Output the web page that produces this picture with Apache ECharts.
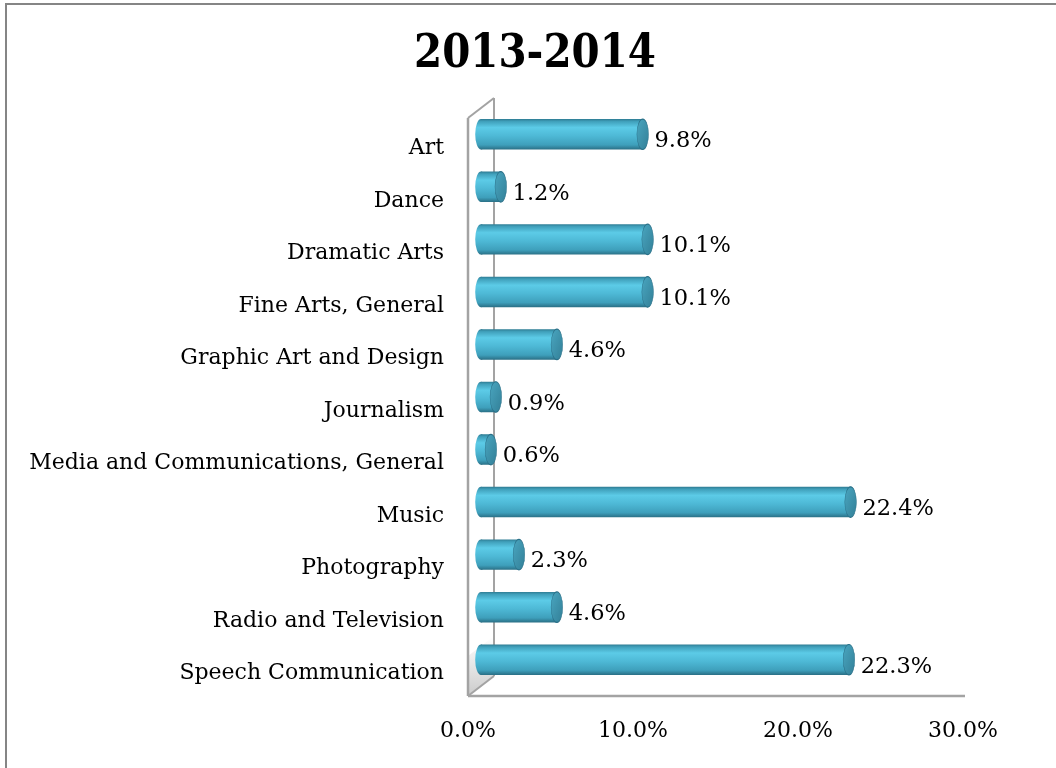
<!DOCTYPE html>
<html>
<head>
<meta charset="utf-8">
<script src="https://cdn.jsdelivr.net/npm/echarts@6/dist/echarts.min.js"></script>
<style>
  html, body { margin: 0; padding: 0; background: #ffffff; }
  #chart { width: 1056px; height: 768px; }
</style>
</head>
<body>
<div id="chart"></div>
<script>
// Share of awards by discipline, 2013-2014
const chartTitle = '2013-2014';
const categories = [
  'Art',
  'Dance',
  'Dramatic Arts',
  'Fine Arts, General',
  'Graphic Art and Design',
  'Journalism',
  'Media and Communications, General',
  'Music',
  'Photography',
  'Radio and Television',
  'Speech Communication'
];
const shares = [9.8, 1.2, 10.1, 10.1, 4.6, 0.9, 0.6, 22.4, 2.3, 4.6, 22.3];
const axisMin = 0;
const axisMax = 30;
const axisStep = 10;

const FONT = 'DejaVu Serif';
const GRID = { left: 468, right: 93, top: 118, bottom: 72 };
// depth of the 3D box (back wall offset) and of the bars (half depth)
const DEPTH_X = 26, DEPTH_Y = -20;
const BAR_DX = 13, BAR_DY = -10;

const bodyFill = new echarts.graphic.LinearGradient(0, 0, 0, 1, [
  { offset: 0.00, color: '#2e7c93' },
  { offset: 0.08, color: '#40a0bb' },
  { offset: 0.28, color: '#5ccbe7' },
  { offset: 0.55, color: '#4eb9d6' },
  { offset: 0.85, color: '#3e9fbb' },
  { offset: 1.00, color: '#2a6f85' }
]);
const faceFill = new echarts.graphic.LinearGradient(0, 0, 1, 1, [
  { offset: 0, color: '#4aa6c0' },
  { offset: 1, color: '#327f97' }
]);

function renderCylinder(params, api) {
  const value = api.value(0);
  const idx = api.value(1);
  const start = api.coord([axisMin, idx]);
  const end = api.coord([value, idx]);
  const band = api.size([0, 1])[1];
  const h = band * 0.58;
  const ry = h / 2;
  const rx = Math.max(3, h * 0.19);
  const x0 = start[0] + BAR_DX;
  const x1 = end[0] + BAR_DX;
  const cy = start[1] + BAR_DY;
  const txt = value.toFixed(1) + '%';
  return {
    type: 'group',
    children: [
      // rounded base of the cylinder
      {
        type: 'circle',
        shape: { cx: 0, cy: 0, r: ry },
        x: x0, y: cy, scaleX: rx / ry,
        style: { fill: bodyFill },
        z2: 1
      },
      // cylinder body
      {
        type: 'rect',
        shape: { x: x0, y: cy - ry, width: Math.max(0, x1 - x0), height: h },
        style: { fill: bodyFill, shadowBlur: 3, shadowColor: 'rgba(0,0,0,0.25)', shadowOffsetY: 1 },
        z2: 2
      },
      // end face
      {
        type: 'circle',
        shape: { cx: 0, cy: 0, r: ry },
        x: x1, y: cy, scaleX: rx / ry,
        style: { fill: faceFill, stroke: '#2b7088', lineWidth: 1.2 },
        z2: 3
      },
      // value label
      {
        type: 'text',
        x: x1 + rx + 6,
        y: cy + 7,
        style: {
          text: txt,
          fontFamily: FONT,
          fontSize: 22.5,
          fill: '#000000',
          align: 'left',
          verticalAlign: 'middle'
        },
        z2: 4
      }
    ]
  };
}

const chart = echarts.init(document.getElementById('chart'), null, { renderer: 'canvas' });

chart.setOption({
  backgroundColor: '#ffffff',
  animation: false,
  grid: GRID,
  xAxis: {
    type: 'value',
    min: axisMin,
    max: axisMax,
    interval: axisStep,
    axisLine: { show: false },
    axisTick: { show: false },
    splitLine: { show: false },
    axisLabel: {
      margin: 24,
      fontFamily: FONT,
      fontSize: 22,
      color: '#000000',
      formatter: v => v.toFixed(1) + '%'
    }
  },
  yAxis: {
    type: 'category',
    inverse: true,
    data: categories,
    axisLine: { show: false },
    axisTick: { show: false },
    splitLine: { show: false },
    axisLabel: {
      margin: 24,
      fontFamily: FONT,
      fontSize: 22,
      color: '#000000',
      formatter: v => '{c|' + v + '}',
      rich: {
        c: { fontFamily: FONT, fontSize: 22, color: '#000000', padding: [8, 0, 0, 0] }
      }
    }
  },
  series: [{
    type: 'custom',
    renderItem: renderCylinder,
    encode: { x: 0, y: 1 },
    data: shares.map((v, i) => [v, i]),
    z: 5
  }]
});

// 3D box frame: front wall edge, back wall edge, floor front edge and the diagonals
const boxLeft = GRID.left;
const boxTop = GRID.top;
const boxBottom = 768 - GRID.bottom;
const boxRight = chart.convertToPixel({ xAxisIndex: 0 }, axisMax);
const wall = { stroke: '#a3a3a3', lineWidth: 2 };

chart.setOption({
  graphic: [
    // outer border
    { type: 'rect', shape: { x: 6, y: 4, width: 1200, height: 900 }, style: { fill: 'none', stroke: '#858585', lineWidth: 2 }, z: 0 },
    // chart title, bold serif, slightly condensed
    {
      type: 'text',
      x: 535, y: 55,
      scaleX: 0.86,
      style: {
        text: chartTitle,
        fontFamily: FONT,
        fontWeight: 'bold',
        fontSize: 47,
        fill: '#000000',
        align: 'center',
        verticalAlign: 'middle'
      },
      z: 2
    },
    // inner corner shading
    {
      type: 'polygon',
      shape: { points: [[boxLeft, boxBottom], [boxLeft + DEPTH_X, boxBottom + DEPTH_Y], [boxLeft + DEPTH_X, boxBottom + DEPTH_Y - 40], [boxLeft, boxBottom - 40]] },
      style: {
        fill: new echarts.graphic.LinearGradient(0, 1, 0, 0, [
          { offset: 0, color: 'rgba(150,150,150,0.5)' },
          { offset: 1, color: 'rgba(160,160,160,0)' }
        ])
      },
      z: 1
    },
    { type: 'line', shape: { x1: boxLeft + DEPTH_X, y1: boxTop + DEPTH_Y, x2: boxLeft + DEPTH_X, y2: boxBottom + DEPTH_Y }, style: wall, z: 1 },
    { type: 'line', shape: { x1: boxLeft, y1: boxTop, x2: boxLeft + DEPTH_X, y2: boxTop + DEPTH_Y }, style: wall, z: 1 },
    { type: 'line', shape: { x1: boxLeft, y1: boxBottom, x2: boxLeft + DEPTH_X, y2: boxBottom + DEPTH_Y }, style: wall, z: 1 },
    { type: 'line', shape: { x1: boxLeft, y1: boxTop, x2: boxLeft, y2: boxBottom }, style: { stroke: '#a3a3a3', lineWidth: 2.5 }, z: 1 },
    { type: 'line', shape: { x1: boxLeft, y1: boxBottom, x2: boxRight + 2, y2: boxBottom }, style: { stroke: '#a3a3a3', lineWidth: 2.5 }, z: 1 }
  ]
});
</script>
</body>
</html>
